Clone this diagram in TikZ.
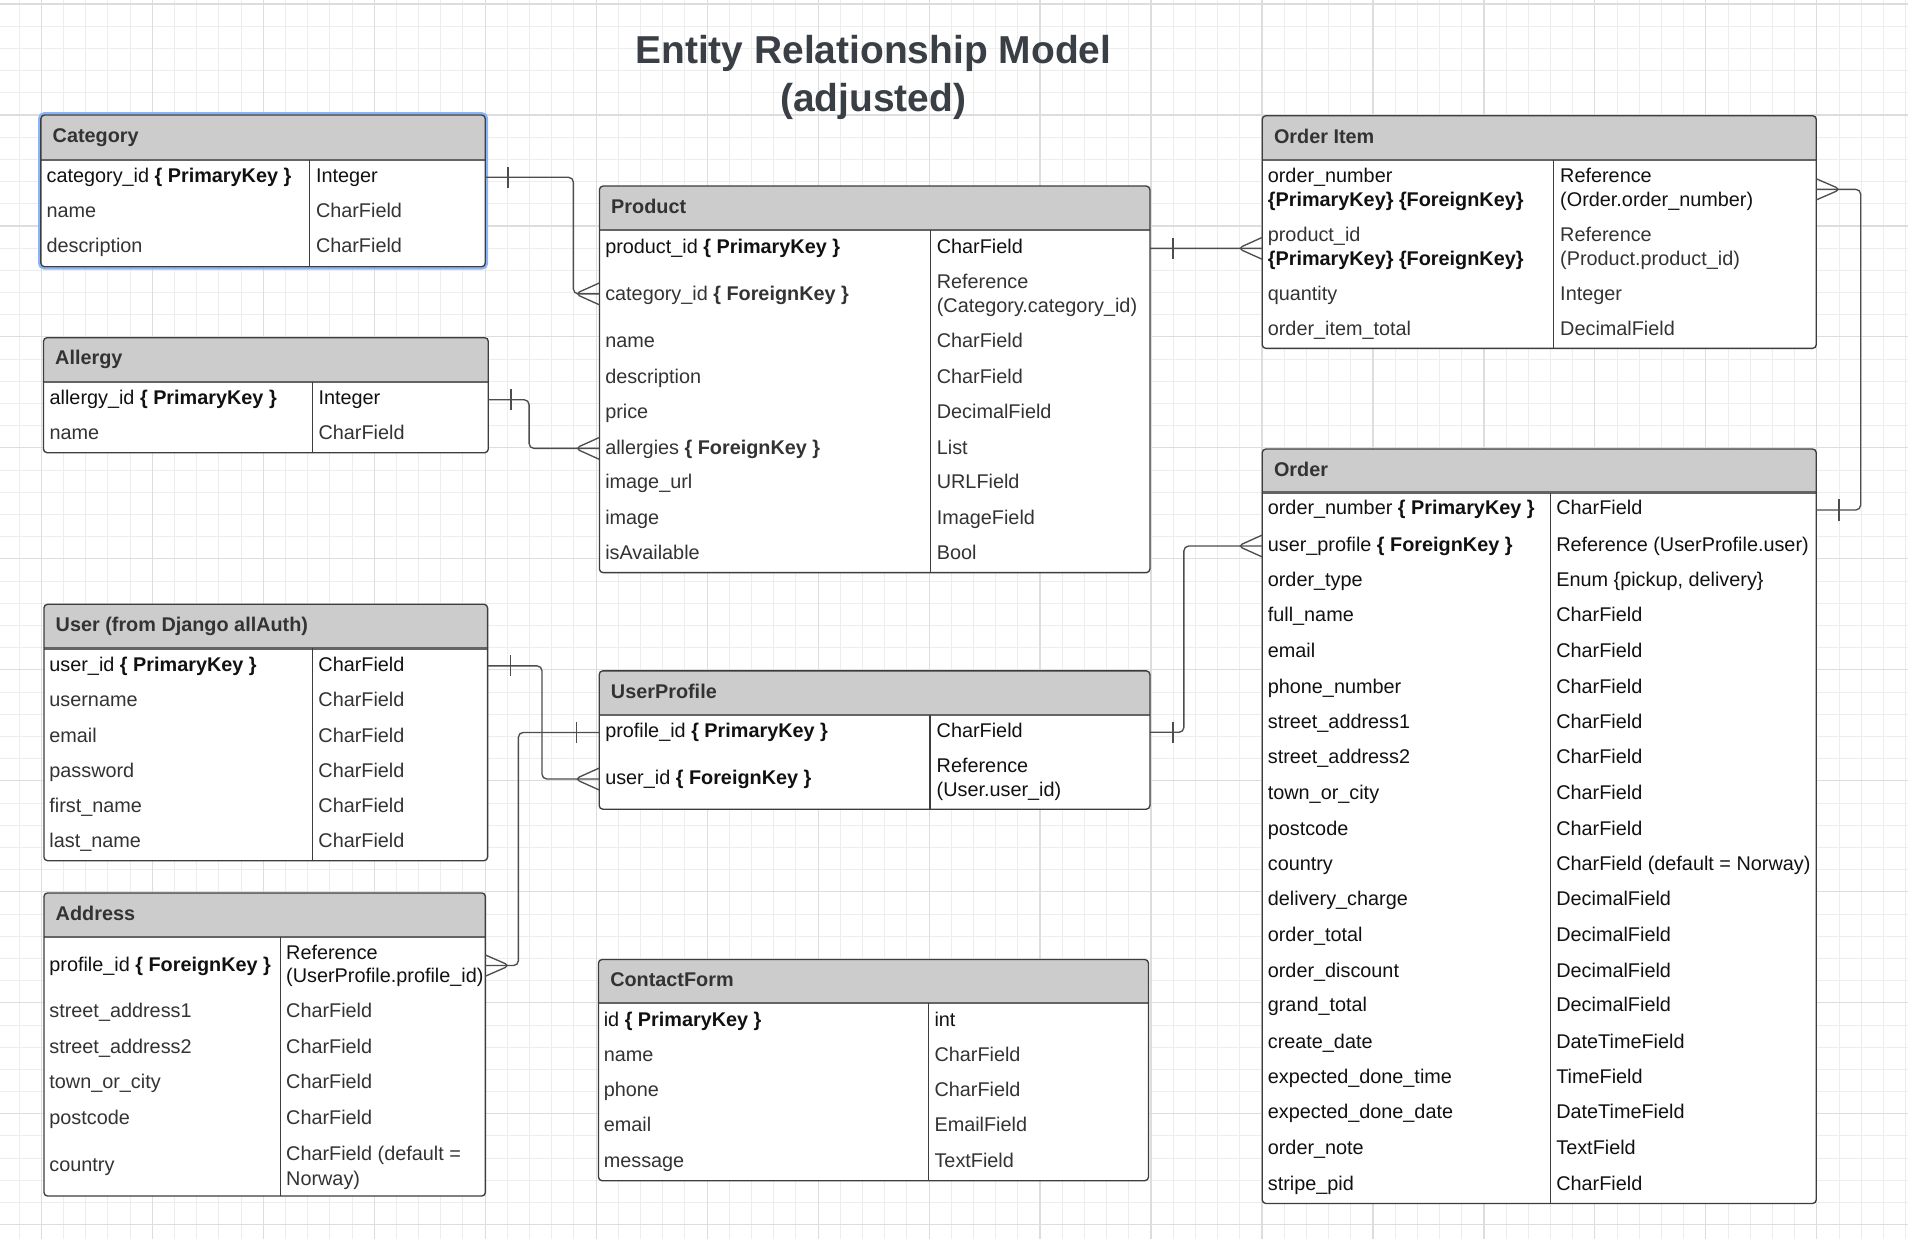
\documentclass[tikz,border=0pt]{standalone}
\usepackage{fontspec}
\setmainfont{Liberation Sans}
\usetikzlibrary{calc}
\definecolor{hdrgray}{HTML}{CCCCCC}
\definecolor{boxc}{HTML}{3D3D3D}
\definecolor{rowc}{HTML}{333333}
\definecolor{keyc}{HTML}{111111}
\definecolor{connc}{HTML}{4D4D4D}
\definecolor{titlec}{HTML}{3A3F46}
\definecolor{gridminor}{HTML}{EDEDED}
\definecolor{gridmajor}{HTML}{DDDDDD}
\definecolor{selblue}{HTML}{8AB4F8}
\tikzset{
  tbox/.style={rectangle, rounded corners=3pt, fill=white, inner sep=0pt, outer sep=0pt},
  hdrfill/.style={fill=hdrgray},
  hdrline/.style={draw=boxc!80, line width=2pt},
  divline/.style={draw=boxc, line width=1pt},
  boxline/.style={draw=boxc, line width=1.1pt},
  htext/.style={font=\fontsize{16.3pt}{19.8pt}\selectfont\bfseries, text=rowc, inner sep=0pt},
  celltext/.style={font=\fontsize{16.3pt}{19.8pt}\selectfont, inner sep=0pt},
  rowc/.style={text=rowc},
  keyc/.style={text=keyc},
  conn/.style={draw=connc, line width=1.1pt, rounded corners=4pt},
  titletext/.style={font=\fontsize{32pt}{40pt}\selectfont\bfseries, text=titlec, inner sep=0pt}
}
% name, x1, y1, x2, y2, yh, xd, title
\newcommand\tframe[8]{%
  \node[tbox, anchor=north west, minimum width={(#4-#2)*1pt}, minimum height={(#5-#3)*1pt}] (#1) at (#2,#3) {};
  \begin{scope}
    \clip[rounded corners=3pt] (#2,#3) rectangle (#4,#5);
    \fill[hdrfill] (#2,#3) rectangle (#4,#6);
  \end{scope}
  \draw[hdrline] (#2,#6) -- (#4,#6);
  \draw[divline] (#7,#6) -- (#7,#5);
  \draw[boxline, rounded corners=3pt] (#1.north west) rectangle (#1.south east);
  \node[htext, anchor=base west] (#1-title) at ({#2+9.5},{(#3+#6)/2-1.5+5.84}) {#8};
}
\newcommand\cell[5][rowc]{\node[celltext, #1, anchor=base west] (#2) at ({#3},{#4+5.84}) {#5};}
\newcommand\tickx[2]{\draw[conn] ($(#1)+(#2,-8.7)$) -- ($(#1)+(#2,8.7)$);}
\newcommand\crowW[1]{\draw[conn] ($(#1)+(0,-9)$) -- ($(#1)+(-20,0)$) -- ($(#1)+(0,9)$);}
\newcommand\crowE[1]{\draw[conn] ($(#1)+(0,-8.7)$) -- ($(#1)+(20,0)$) -- ($(#1)+(0,8.7)$);}
\begin{document}
\begin{tikzpicture}[x=1pt,y=-1pt]
\fill[white] (0,0) rectangle (1568,1017.4);
\useasboundingbox (0,0) rectangle (1568,1017.4);
\begin{scope}
  \clip (0,0) rectangle (1568,1017.4);
  \begin{scope}[shift={(33.9,3.3)}]
    \draw[gridminor, line width=0.8pt, step=18.24pt] (-60,-30) grid (1560,1040);
    \draw[gridmajor, line width=0.9pt, step=91.2pt] (-120,-100) grid (1600,1100);
  \end{scope}
\end{scope}

% Title
\node[titletext, anchor=base] (title1) at (717.7,52) {Entity Relationship Model};
\node[titletext, anchor=base] (title2) at (717.7,91.8) {(adjusted)};

% ---------- Category ----------
\draw[selblue, line width=1.8pt, rounded corners=4pt] (32.2,93.1) rectangle (400.2,220.6);
\tframe{cat}{33.6}{94.5}{398.8}{219.2}{131.5}{254.1}{Category}
\cell[keyc]{ca1}{38.1}{144.4}{category\_id \textbf{\{ PrimaryKey \}}}
\cell[keyc]{ca1t}{259.5}{144.4}{Integer}
\cell{ca2}{38.1}{173.2}{name}
\cell{ca2t}{259.5}{173.2}{CharField}
\cell{ca3}{38.1}{201.9}{description}
\cell{ca3t}{259.5}{201.9}{CharField}

% ---------- Allergy ----------
\tframe{al}{35.7}{277.5}{401.3}{372}{313.7}{256.7}{Allergy}
\cell[keyc]{al1}{40.6}{326.5}{allergy\_id \textbf{\{ PrimaryKey \}}}
\cell[keyc]{al1t}{261.6}{326.5}{Integer}
\cell{al2}{40.6}{355.3}{name}
\cell{al2t}{261.6}{355.3}{CharField}

% ---------- Product ----------
\tframe{pr}{492.6}{152.9}{945}{470.6}{189}{764.7}{Product}
\cell[keyc]{pr1}{497.2}{202.2}{product\_id \textbf{\{ PrimaryKey \}}}
\cell[keyc]{pr1t}{769.7}{202.2}{CharField}
\cell{pr2}{497.2}{241.1}{category\_id \textbf{\{ ForeignKey \}}}
\cell{pr2a}{769.7}{230.9}{Reference}
\cell{pr2b}{769.7}{250.7}{(Category.category\_id)}
\cell{pr3}{497.2}{279.4}{name}
\cell{pr3t}{769.7}{279.4}{CharField}
\cell{pr4}{497.2}{309}{description}
\cell{pr4t}{769.7}{309}{CharField}
\cell{pr5}{497.2}{337.8}{price}
\cell{pr5t}{769.7}{337.8}{DecimalField}
\cell{pr6}{497.2}{367.4}{allergies \textbf{\{ ForeignKey \}}}
\cell{pr6t}{769.7}{367.4}{List}
\cell{pr7}{497.2}{395.9}{image\_url}
\cell{pr7t}{769.7}{395.9}{URLField}
\cell{pr8}{497.2}{425.4}{image}
\cell{pr8t}{769.7}{425.4}{ImageField}
\cell{pr9}{497.2}{454.2}{isAvailable}
\cell{pr9t}{769.7}{454.2}{Bool}

% ---------- Order Item ----------
\tframe{oi}{1037.3}{95.1}{1492.6}{286.3}{131.5}{1276.9}{Order Item}
\cell[keyc]{oi1a}{1041.7}{143.8}{order\_number}
\cell[keyc]{oi1b}{1041.7}{163.8}{\textbf{\{PrimaryKey\} \{ForeignKey\}}}
\cell[keyc]{oi1ta}{1282}{143.8}{Reference}
\cell[keyc]{oi1tb}{1282}{163.8}{(Order.order\_number)}
\cell{oi2a}{1041.7}{192.6}{product\_id}
\cell[keyc]{oi2b}{1041.7}{212.3}{\textbf{\{PrimaryKey\} \{ForeignKey\}}}
\cell{oi2ta}{1282}{192.6}{Reference}
\cell{oi2tb}{1282}{212.3}{(Product.product\_id)}
\cell{oi3}{1041.7}{241.1}{quantity}
\cell{oi3t}{1282}{241.1}{Integer}
\cell{oi4}{1041.7}{269.8}{order\_item\_total}
\cell{oi4t}{1282}{269.8}{DecimalField}

% ---------- Order ----------
\tframe{ord}{1037.3}{369}{1492.6}{989}{404.9}{1274.1}{Order}
\cell[keyc]{or1}{1041.7}{417.2}{order\_number \textbf{\{ PrimaryKey \}}}
\cell[keyc]{or1t}{1278.8}{417.2}{CharField}
\cell[keyc]{or2}{1041.7}{447.3}{user\_profile \textbf{\{ ForeignKey \}}}
\cell[keyc]{or2t}{1278.8}{447.3}{Reference (UserProfile.user)}
\cell[keyc]{or3}{1041.7}{476}{order\_type}
\cell[keyc]{or3t}{1278.8}{476}{Enum \{pickup, delivery\}}
\cell[keyc]{or4}{1041.7}{505.3}{full\_name}
\cell[keyc]{or4t}{1278.8}{505.3}{CharField}
\cell[keyc]{or5}{1041.7}{534.2}{email}
\cell[keyc]{or5t}{1278.8}{534.2}{CharField}
\cell[keyc]{or6}{1041.7}{563.8}{phone\_number}
\cell[keyc]{or6t}{1278.8}{563.8}{CharField}
\cell[keyc]{or7}{1041.7}{592.7}{street\_address1}
\cell[keyc]{or7t}{1278.8}{592.7}{CharField}
\cell[keyc]{or8}{1041.7}{622}{street\_address2}
\cell[keyc]{or8t}{1278.8}{622}{CharField}
\cell[keyc]{or9}{1041.7}{650.9}{town\_or\_city}
\cell[keyc]{or9t}{1278.8}{650.9}{CharField}
\cell[keyc]{or10}{1041.7}{680.5}{postcode}
\cell[keyc]{or10t}{1278.8}{680.5}{CharField}
\cell[keyc]{or11}{1041.7}{709.8}{country}
\cell[keyc]{or11t}{1278.8}{709.8}{CharField (default = Norway)}
\cell[keyc]{or12}{1041.7}{738.7}{delivery\_charge}
\cell[keyc]{or12t}{1278.8}{738.7}{DecimalField}
\cell[keyc]{or13}{1041.7}{767.7}{order\_total}
\cell[keyc]{or13t}{1278.8}{767.7}{DecimalField}
\cell[keyc]{or14}{1041.7}{797.2}{order\_discount}
\cell[keyc]{or14t}{1278.8}{797.2}{DecimalField}
\cell[keyc]{or15}{1041.7}{825.8}{grand\_total}
\cell[keyc]{or15t}{1278.8}{825.8}{DecimalField}
\cell[keyc]{or16}{1041.7}{855.4}{create\_date}
\cell[keyc]{or16t}{1278.8}{855.4}{DateTimeField}
\cell[keyc]{or17}{1041.7}{884.3}{expected\_done\_time}
\cell[keyc]{or17t}{1278.8}{884.3}{TimeField}
\cell[keyc]{or18}{1041.7}{913.6}{expected\_done\_date}
\cell[keyc]{or18t}{1278.8}{913.6}{DateTimeField}
\cell[keyc]{or19}{1041.7}{942.6}{order\_note}
\cell[keyc]{or19t}{1278.8}{942.6}{TextField}
\cell[keyc]{or20}{1041.7}{972.1}{stripe\_pid}
\cell[keyc]{or20t}{1278.8}{972.1}{CharField}

% ---------- User ----------
\tframe{us}{36.1}{496.6}{400.7}{707.3}{532.9}{256.7}{User (from Django allAuth)}
\cell[keyc]{us1}{40.4}{545.9}{user\_id \textbf{\{ PrimaryKey \}}}
\cell[keyc]{us1t}{261.5}{545.9}{CharField}
\cell{us2}{40.4}{574.8}{username}
\cell{us2t}{261.5}{574.8}{CharField}
\cell{us3}{40.4}{604}{email}
\cell{us3t}{261.5}{604}{CharField}
\cell{us4}{40.4}{632.8}{password}
\cell{us4t}{261.5}{632.8}{CharField}
\cell{us5}{40.4}{662}{first\_name}
\cell{us5t}{261.5}{662}{CharField}
\cell{us6}{40.4}{690.8}{last\_name}
\cell{us6t}{261.5}{690.8}{CharField}

% ---------- UserProfile ----------
\tframe{up}{492.4}{551.3}{945}{665}{587.5}{764.2}{UserProfile}
\cell[keyc]{up1}{497.2}{600}{profile\_id \textbf{\{ PrimaryKey \}}}
\cell[keyc]{up1t}{769.6}{600}{CharField}
\cell[keyc]{up2}{497.2}{639.2}{user\_id \textbf{\{ ForeignKey \}}}
\cell[keyc]{up2a}{769.6}{629.1}{Reference}
\cell[keyc]{up2b}{769.6}{648.6}{(User.user\_id)}

% ---------- Address ----------
\tframe{ad}{36.1}{733.8}{398.9}{982.9}{770}{230.2}{Address}
\cell[keyc]{ad1}{40.4}{792.2}{profile\_id \textbf{\{ ForeignKey \}}}
\cell[keyc]{ad1a}{235}{782.4}{Reference}
\cell[keyc]{ad1b}{235}{801.9}{(UserProfile.profile\_id)}
\cell{ad2}{40.4}{830.7}{street\_address1}
\cell{ad2t}{235}{830.7}{CharField}
\cell{ad3}{40.4}{859.6}{street\_address2}
\cell{ad3t}{235}{859.6}{CharField}
\cell{ad4}{40.4}{889}{town\_or\_city}
\cell{ad4t}{235}{889}{CharField}
\cell{ad5}{40.4}{917.9}{postcode}
\cell{ad5t}{235}{917.9}{CharField}
\cell{ad6}{40.4}{957.2}{country}
\cell{ad6a}{235}{947.8}{CharField (default =}
\cell{ad6b}{235}{968}{Norway)}

% ---------- ContactForm ----------
\tframe{cf}{491.8}{788.5}{943.8}{970.3}{824.3}{763}{ContactForm}
\cell[keyc]{cf1}{496}{837.4}{id \textbf{\{ PrimaryKey \}}}
\cell[keyc]{cf1t}{767.8}{837.4}{int}
\cell{cf2}{496}{866.3}{name}
\cell{cf2t}{767.8}{866.3}{CharField}
\cell{cf3}{496}{895.5}{phone}
\cell{cf3t}{767.8}{895.5}{CharField}
\cell{cf4}{496}{924.3}{email}
\cell{cf4t}{767.8}{924.3}{EmailField}
\cell{cf5}{496}{953.5}{message}
\cell{cf5t}{767.8}{953.5}{TextField}

% ---------- Connectors ----------
% Category -> Product
\coordinate (c1s) at ($(cat.north east)+(0,51.2)$);
\coordinate (c1e) at ($(pr.north west)+(0,88.6)$);
\draw[conn] (c1s) -- ++(72.4,0) |- (c1e);
\tickx{c1s}{18.7}
\crowW{c1e}
% Allergy -> Product
\coordinate (c2s) at ($(al.north east)+(0,51)$);
\coordinate (c2e) at ($(pr.north west)+(0,215.6)$);
\draw[conn] (c2s) -- ++(33.5,0) |- (c2e);
\tickx{c2s}{18.6}
\crowW{c2e}
% Product -> Order Item
\coordinate (c3s) at ($(pr.north east)+(0,51.2)$);
\coordinate (c3e) at ($(oi.north west)+(0,109)$);
\draw[conn] (c3s) -- (c3e);
\tickx{c3s}{19}
\crowW{c3e}
% Order Item -> Order
\coordinate (c4s) at ($(oi.north east)+(0,60.5)$);
\coordinate (c4e) at ($(ord.north east)+(0,50.1)$);
\draw[conn] (c4s) -- ++(36.5,0) |- (c4e);
\crowE{c4s}
\tickx{c4e}{18.7}
% UserProfile -> Order
\coordinate (c5s) at ($(up.north east)+(0,50.5)$);
\coordinate (c5e) at ($(ord.north west)+(0,79.7)$);
\draw[conn] (c5s) -- ++(27.9,0) |- (c5e);
\tickx{c5s}{19}
\crowW{c5e}
% User -> UserProfile
\coordinate (c6s) at ($(us.north east)+(0,50.6)$);
\coordinate (c6e) at ($(up.north west)+(0,88.9)$);
\draw[conn] (c6s) -- ++(44.7,0) |- (c6e);
\tickx{c6s}{18.8}
\crowW{c6e}
% UserProfile -> Address
\coordinate (c7s) at ($(up.north west)+(0,50.6)$);
\coordinate (c7e) at ($(ad.north east)+(0,59.7)$);
\draw[conn] (c7s) -- ++(-66.4,0) |- (c7e);
\tickx{c7s}{-18.7}
\crowE{c7e}
\end{tikzpicture}
\end{document}
